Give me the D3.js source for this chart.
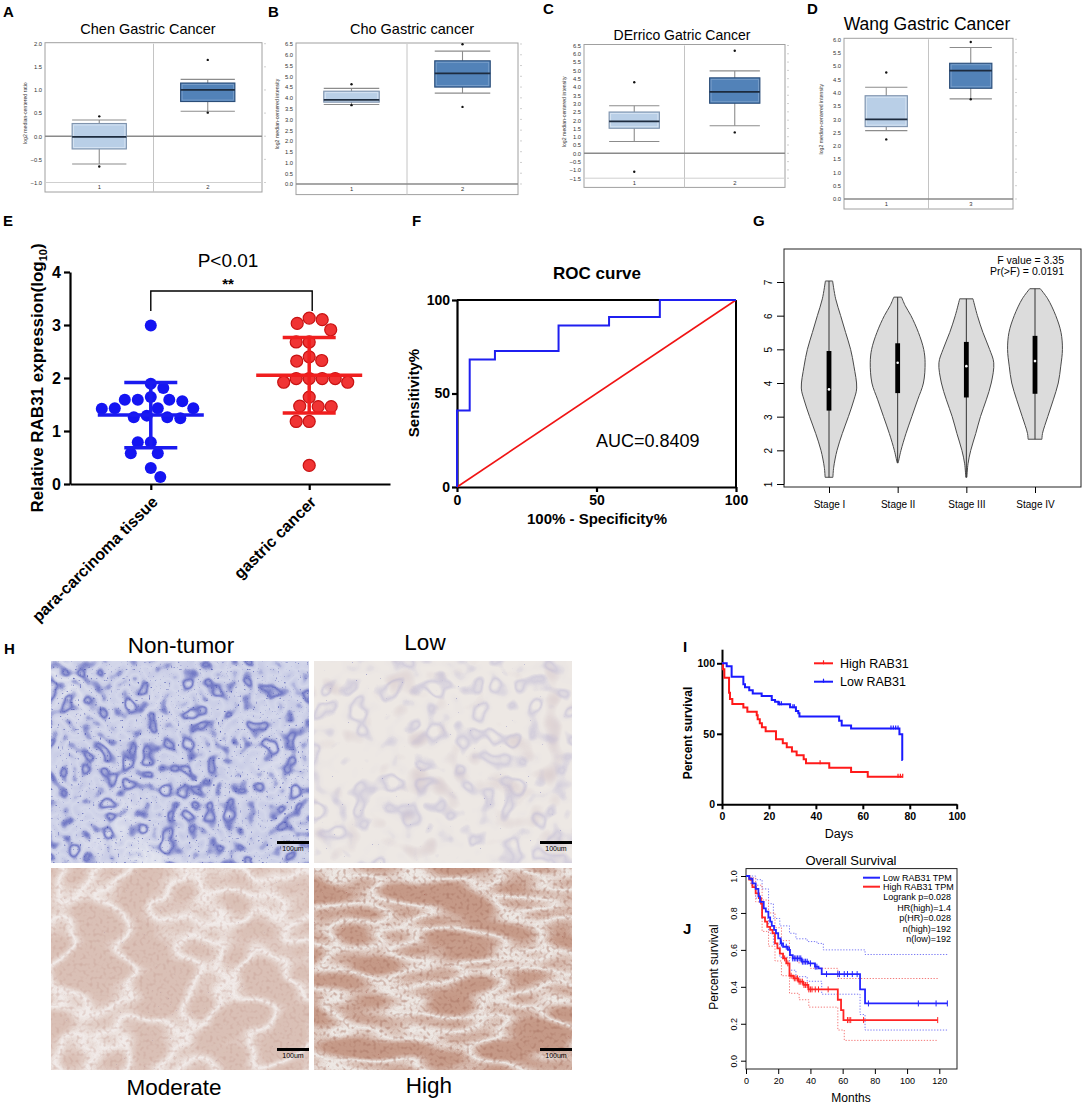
<!DOCTYPE html>
<html>
<head>
<meta charset="utf-8">
<title>RAB31 gastric cancer figure</title>
<script src="https://cdn.jsdelivr.net/npm/d3@7/dist/d3.min.js"></script>
<style>
  body { margin: 0; background: #fff; }
  svg { display: block; }
  text { font-family: "Liberation Sans", Arial, Helvetica, sans-serif; }
</style>
</head>
<body>
<svg id="fig" width="1084" height="1106"></svg>
<script>
// ---------- data: A-D Oncomine boxes [whiskerLow, q1, median, q3, whiskerHigh] ----------
const chenGroups = ['1', '2'];
const chenBoxes = [[-0.6, -0.275, -0.015, 0.275, 0.35], [0.54, 0.75, 1.0, 1.15, 1.23]];
const chenOutliers = [[0.43, -0.655], [1.65, 0.51]];
const chenTicks = [-1.0, -0.5, 0.0, 0.5, 1.0, 1.5, 2.0];

const choGroups = ['1', '2'];
const choBoxes = [[3.69, 3.8, 3.91, 4.31, 4.44], [4.22, 4.5, 5.14, 5.72, 6.17]];
const choOutliers = [[4.63, 3.66], [6.49, 3.58]];
const choTicks = [0, 0.5, 1, 1.5, 2, 2.5, 3, 3.5, 4, 4.5, 5, 5.5, 6, 6.5];

const derricoGroups = ['1', '2'];
const derricoBoxes = [[0.71, 1.51, 1.93, 2.49, 2.87], [1.66, 3.02, 3.71, 4.55, 4.97]];
const derricoOutliers = [[4.28, -1.11], [6.18, 1.26]];
const derricoTicks = [-1.5, -1, -0.5, 0, 0.5, 1, 1.5, 2, 2.5, 3, 3.5, 4, 4.5, 5, 5.5, 6, 6.5];

const wangGroups = ['1', '3'];
const wangBoxes = [[2.57, 2.72, 2.99, 3.88, 4.2], [3.76, 4.16, 4.82, 5.1, 5.69]];
const wangOutliers = [[4.75, 2.24], [5.9, 3.75]];
const wangTicks = [0, 0.5, 1, 1.5, 2, 2.5, 3, 3.5, 4, 4.5, 5, 5.5, 6];

// ---------- data: E scatter ----------
const eGroups = ['para-carcinoma tissue', 'gastric cancer'];
const paraValues = [2.99, 1.89, 1.81, 1.64, 1.59, 1.59, 1.56, 1.59, 1.43, 1.42, 1.43, 1.43,
  1.26, 1.24, 1.26, 1.29, 0.79, 0.79, 0.58, 0.58, 0.30, 0.13];
const cancerValues = [3.13, 3.03, 3.10, 2.91, 2.68, 2.68, 2.40, 2.32, 2.33, 1.99, 1.99, 1.92,
  1.92, 1.99, 1.99, 1.64, 1.47, 1.46, 1.46, 1.18, 1.18, 0.35];
const eTicks = [0, 1, 2, 3, 4];

// ---------- data: F ROC ----------
const rocFpr = [0, 0, 4.55, 4.55, 13.6, 13.6, 36.4, 36.4, 54.5, 54.5, 72.7, 72.7, 100];
const rocTpr = [0, 40.9, 40.9, 68.2, 68.2, 72.7, 72.7, 86.4, 86.4, 90.9, 90.9, 100, 100];
const rocDiag = [0, 100];
const rocTicks = [0, 50, 100];

// ---------- data: G violins [value, relative density] ----------
const stages = ['Stage I', 'Stage II', 'Stage III', 'Stage IV'];
const violinDensity = [
  [[1.2, 0.14], [1.5, 0.17], [2.0, 0.29], [2.5, 0.48], [3.0, 0.70], [3.5, 0.90], [3.85, 1.0], [4.5, 0.90], [5.0, 0.78], [5.5, 0.60], [6.0, 0.42], [6.5, 0.24], [7.03, 0.13]],
  [[1.63, 0.02], [1.75, 0.05], [2.0, 0.12], [2.5, 0.30], [3.0, 0.51], [3.5, 0.72], [4.0, 0.93], [4.6, 0.99], [5.0, 0.94], [5.5, 0.75], [6.0, 0.48], [6.3, 0.27], [6.55, 0.14]],
  [[1.2, 0.02], [1.6, 0.06], [2.0, 0.16], [2.5, 0.34], [3.0, 0.51], [3.5, 0.72], [4.0, 0.90], [4.6, 0.99], [5.0, 0.84], [5.5, 0.60], [6.0, 0.40], [6.5, 0.24]],
  [[2.33, 0.25], [2.5, 0.27], [3.0, 0.46], [3.5, 0.66], [4.0, 0.84], [4.5, 0.93], [5.0, 0.99], [5.5, 0.94], [6.0, 0.75], [6.5, 0.46], [6.8, 0.19]]
];
// [min, q1, median, q3, max]
const violinStats = [[1.2, 3.18, 3.81, 4.95, 7.03], [1.63, 3.7, 4.6, 5.18, 6.55], [1.2, 3.57, 4.5, 5.22, 6.5], [2.33, 3.68, 4.65, 5.4, 6.8]];
const gTicks = [1, 2, 3, 4, 5, 6, 7];

// ---------- data: I Kaplan-Meier (days, percent) ----------
const iHighDays = [0, 0.4, 1, 3, 3.4, 4.4, 9.1, 10.8, 14.8, 15.2, 16.1, 17, 18.6, 23, 25.9, 27.6, 29.8, 31.8, 34.8, 35.8, 45.7, 55, 62.1, 77];
const iHighSurv = [100, 95.7, 89.8, 79.2, 74.7, 71.2, 68.6, 65.7, 63.1, 60.3, 57.4, 54.6, 51.8, 46.1, 43.3, 40.4, 37.4, 34.8, 31.9, 29.1, 26, 22.9, 19.6, 19.6];
const iHighCensor = [41.8, 75, 76, 77];
const iLowDays = [0, 2, 4.1, 9.1, 9.8, 11.6, 13.1, 16.9, 21.2, 22.6, 24, 29, 31.5, 32.5, 33, 49.9, 51, 55, 75.6, 76.8, 77];
const iLowSurv = [100, 97.9, 90.5, 85.1, 83, 80.8, 78.5, 76.8, 74, 72.8, 70.9, 68.8, 66.2, 64.5, 62.2, 59.3, 55.8, 53.7, 49.6, 31.4, 31.4];
const iLowCensor = [24.5, 25.3, 30.2, 30.8, 72, 73, 74, 75];
const iXTicks = [0, 20, 40, 60, 80, 100];
const iYTicks = [0, 50, 100];

// ---------- data: J GEPIA overall survival (months, fraction) ----------
const jLowMonths = [0, 2, 4, 6, 7.7, 8.7, 11, 12.3, 13.9, 15, 16, 17.4, 18.6, 20, 21.5, 23, 26, 27.3, 29, 34.5, 38.7, 42.8, 45, 47, 70.8, 73.9, 125];
const jLowSurv = [1, 0.985, 0.96, 0.93, 0.89, 0.86, 0.825, 0.807, 0.776, 0.753, 0.73, 0.708, 0.69, 0.662, 0.635, 0.617, 0.6, 0.572, 0.554, 0.536, 0.527, 0.509, 0.5, 0.469, 0.386, 0.31, 0.31];
const jLowUpperM = [0, 3, 6, 10, 14, 17, 21, 27, 31, 38, 44, 48, 73.9, 125];
const jLowUpperS = [1, 1, 0.98, 0.93, 0.85, 0.77, 0.73, 0.69, 0.66, 0.645, 0.635, 0.6, 0.575, 0.575];
const jLowLowerM = [0, 3, 6, 10, 14, 17, 21, 27, 31, 38, 47, 70.8, 73.9, 125];
const jLowLowerS = [1, 0.96, 0.88, 0.77, 0.69, 0.63, 0.56, 0.49, 0.455, 0.43, 0.36, 0.25, 0.166, 0.166];
const jLowCensor = [22, 25, 27, 29, 30, 31, 32, 33, 34, 35, 36, 37, 38, 40, 43, 44, 50, 57, 58, 61, 63, 66, 69, 76, 107, 118, 125];

const jHighMonths = [0, 2, 4, 6, 8, 9.3, 10, 11.8, 13.2, 15, 16.5, 18, 19.5, 21, 23, 25, 27, 29.4, 32.5, 35.6, 38.7, 57, 59, 60.5, 119];
const jHighSurv = [1, 0.98, 0.94, 0.906, 0.88, 0.85, 0.776, 0.753, 0.725, 0.708, 0.69, 0.635, 0.608, 0.58, 0.554, 0.527, 0.46, 0.446, 0.428, 0.41, 0.386, 0.33, 0.274, 0.22, 0.22];
const jHighUpperM = [0, 3, 6, 10, 14, 18, 22, 27, 32, 40, 57, 119];
const jHighUpperS = [1, 0.99, 0.95, 0.87, 0.8, 0.72, 0.65, 0.56, 0.53, 0.5, 0.445, 0.445];
const jHighLowerM = [0, 3, 6, 10, 14, 18, 22, 27, 33, 39, 57, 61, 119];
const jHighLowerS = [1, 0.95, 0.86, 0.7, 0.62, 0.54, 0.46, 0.365, 0.33, 0.29, 0.166, 0.11, 0.11];
const jHighCensor = [24, 26, 28, 30, 31, 32, 33, 34, 35, 36, 37, 38, 39, 40, 41, 43, 45, 51, 63, 64, 65, 73, 119];
const jXTicks = [0, 20, 40, 60, 80, 100, 120];
const jYTicks = [0, 0.2, 0.4, 0.6, 0.8, 1.0];
const jStats = ['Logrank p=0.028', 'HR(high)=1.4', 'p(HR)=0.028', 'n(high)=192', 'n(low)=192'];

// ---------- setup ----------
const svg = d3.select('#fig');
svg.append('rect').attr('width', 1084).attr('height', 1106).attr('fill', '#fff');
const defs = svg.append('defs');

function panelLetter(t, x, y) {
  svg.append('text').attr('x', x).attr('y', y).attr('font-size', 15).attr('font-weight', 'bold').text(t);
}

function styleAxis(g, size, weight, width) {
  g.selectAll('text').attr('font-size', size).attr('font-weight', weight || 'normal').attr('fill', '#000');
  g.selectAll('path, line').attr('stroke', '#000').attr('stroke-width', width || 1);
}

// ---------- A-D ----------
function oncominePanel(p) {
  const g = svg.append('g');
  const y = d3.scaleLinear().domain(p.domain).range([p.plotBottom, p.top]);
  const x = d3.scaleBand().domain(p.groups).range([p.left, p.right]);
  const bw = x.bandwidth() * 0.5;

  g.append('rect').attr('x', p.left).attr('y', p.top - 1).attr('width', p.right - p.left)
    .attr('height', p.bottom - p.top + 1).attr('fill', 'none').attr('stroke', '#a0a0a0');
  g.append('line').attr('x1', x(p.groups[1])).attr('x2', x(p.groups[1]))
    .attr('y1', p.top).attr('y2', p.bottom).attr('stroke', '#c4c4c4');
  if (p.domain[0] < 0) {
    g.append('line').attr('x1', p.left).attr('x2', p.right).attr('y1', y(p.domain[0])).attr('y2', y(p.domain[0]))
      .attr('stroke', '#cfcfcf');
  }
  g.append('line').attr('x1', p.left).attr('x2', p.right).attr('y1', y(0)).attr('y2', y(0))
    .attr('stroke', '#8a8a8a').attr('stroke-width', 1.4);

  const ax = g.append('g').attr('transform', `translate(${p.left},0)`)
    .call(d3.axisLeft(y).tickValues(p.ticks).tickSize(0).tickPadding(3).tickFormat(d3.format('.1f')));
  ax.select('.domain').remove();
  ax.selectAll('text').attr('font-size', 5.8).attr('fill', '#333');

  g.selectAll('.rt').data(p.ticks).join('line')
    .attr('x1', p.right + 2).attr('x2', p.right + 4)
    .attr('y1', d => y(d)).attr('y2', d => y(d)).attr('stroke', '#bbb').attr('stroke-width', 0.7);

  g.selectAll('.xl').data(p.groups).join('text')
    .attr('x', d => x(d) + x.bandwidth() / 2).attr('y', (p.plotBottom + p.bottom) / 2 + 2)
    .attr('text-anchor', 'middle').attr('font-size', 5.8).attr('fill', '#333').text(d => d);

  p.groups.forEach((grp, i) => {
    const [lo, q1, med, q3, hi] = p.boxes[i];
    const cx = x(grp) + x.bandwidth() / 2;
    const light = i === 0;
    const wc = '#8c8c8c';
    g.append('line').attr('x1', cx).attr('x2', cx).attr('y1', y(hi)).attr('y2', y(lo)).attr('stroke', wc).attr('stroke-width', 1.1);
    [lo, hi].forEach(v => g.append('line').attr('x1', cx - bw / 2).attr('x2', cx + bw / 2)
      .attr('y1', y(v)).attr('y2', y(v)).attr('stroke', wc).attr('stroke-width', 1.1));
    g.append('rect').attr('x', cx - bw / 2).attr('y', y(q3)).attr('width', bw).attr('height', y(q1) - y(q3))
      .attr('fill', light ? '#b9cfe7' : '#5282b8').attr('stroke', light ? '#7f93ad' : '#2a4d78').attr('stroke-width', 1.1);
    g.append('rect').attr('x', cx - bw / 2 + 1.5).attr('y', y(q3) + 1.5).attr('width', bw - 3).attr('height', Math.max(0, y(q1) - y(q3) - 3))
      .attr('fill', 'none').attr('stroke', light ? '#dbe7f4' : '#7fa3cc').attr('stroke-width', 0.8);
    g.append('line').attr('x1', cx - bw / 2).attr('x2', cx + bw / 2).attr('y1', y(med)).attr('y2', y(med))
      .attr('stroke', '#1d2b3e').attr('stroke-width', 1.7);
    g.selectAll(null).data(p.outliers[i]).join('circle')
      .attr('cx', cx).attr('cy', d => y(d)).attr('r', 1.2).attr('fill', '#111');
  });

  g.append('text').attr('x', p.titleX).attr('y', p.titleY).attr('text-anchor', 'middle')
    .attr('font-size', p.titleSize).text(p.title);
  g.append('text').attr('transform', `translate(${p.ytx},${(p.top + p.plotBottom) / 2}) rotate(-90)`)
    .attr('text-anchor', 'middle').attr('font-size', 5.2).attr('fill', '#333').text(p.ytitle);
}

oncominePanel({ groups: chenGroups, boxes: chenBoxes, outliers: chenOutliers, ticks: chenTicks, domain: [-1, 2],
  left: 45, right: 262, top: 43.7, plotBottom: 182.5, bottom: 192,
  title: 'Chen Gastric Cancer', titleX: 148, titleY: 34, titleSize: 14.5, ytx: 27, ytitle: 'log2 median-centered ratio' });
oncominePanel({ groups: choGroups, boxes: choBoxes, outliers: choOutliers, ticks: choTicks, domain: [0, 6.5],
  left: 296, right: 518, top: 44, plotBottom: 184, bottom: 194.6,
  title: 'Cho Gastric cancer', titleX: 412, titleY: 34, titleSize: 14.5, ytx: 279, ytitle: 'log2 median-centered intensity' });
oncominePanel({ groups: derricoGroups, boxes: derricoBoxes, outliers: derricoOutliers, ticks: derricoTicks, domain: [-1.5, 6.5],
  left: 584, right: 785, top: 45.5, plotBottom: 178.2, bottom: 187.4,
  title: 'DErrico Gatric Cancer', titleX: 682, titleY: 39.5, titleSize: 14, ytx: 566, ytitle: 'log2 median-centered intensity' });
oncominePanel({ groups: wangGroups, boxes: wangBoxes, outliers: wangOutliers, ticks: wangTicks, domain: [0, 6],
  left: 844, right: 1013, top: 39.3, plotBottom: 199, bottom: 209,
  title: 'Wang Gastric Cancer', titleX: 927, titleY: 30, titleSize: 17.5, ytx: 823, ytitle: 'log2 median-centered intensity' });

panelLetter('A', 3, 17);
panelLetter('B', 268, 17);
panelLetter('C', 543, 14);
panelLetter('D', 807, 14);

// ---------- E ----------
const eY = d3.scaleLinear().domain([0, 4]).range([484, 272]);
const eX = d3.scalePoint().domain(eGroups).range([70, 390]).padding(0.51);
const eG = svg.append('g');
eG.append('g').attr('transform', 'translate(70,0)')
  .call(d3.axisLeft(eY).tickValues(eTicks).tickSize(6).tickSizeOuter(0).tickPadding(3).tickFormat(d3.format('d')))
  .call(g => styleAxis(g, 16, 'bold', 2.2));
eG.append('g').attr('transform', 'translate(0,484)')
  .call(d3.axisBottom(eX).tickSize(6).tickSizeOuter(0))
  .call(g => { styleAxis(g, 16, 'bold', 2.2); g.selectAll('text').remove(); });
eG.selectAll('.xlab').data(eGroups).join('text')
  .attr('transform', d => `translate(${eX(d) + 8},${503}) rotate(-45)`)
  .attr('text-anchor', 'end').attr('font-size', 16).attr('font-weight', 'bold').text(d => d);

const eTitle = eG.append('text').attr('transform', 'translate(43,378) rotate(-90)')
  .attr('text-anchor', 'middle').attr('font-size', 17).attr('font-weight', 'bold');
eTitle.append('tspan').text('Relative RAB31 expression(log');
eTitle.append('tspan').attr('font-size', 11).attr('dy', 4).text('10');
eTitle.append('tspan').attr('dy', -4).text(')');

// simple beeswarm: place from the top value down, nearest free offset, alternating sides
function swarm(values, cx, r) {
  const pts = values.map(v => ({ v, y: eY(v), x: cx }));
  const placed = [];
  let balance = 0;
  pts.slice().sort((a, b) => b.v - a.v).forEach(p => {
    for (let dx = 0; dx < 200; dx += 0.5) {
      const opts = dx === 0 ? [0] : (balance > 0 ? [-dx, dx] : [dx, -dx]);
      const ok = opts.find(o => placed.every(q => Math.hypot(q.x - (cx + o), q.y - p.y) >= 2 * r));
      if (ok !== undefined) { p.x = cx + ok; balance += Math.sign(ok); break; }
    }
    placed.push(p);
  });
  return pts;
}

[[paraValues, '#1414f2', null], [cancerValues, '#f03434', '#c81212']].forEach(([vals, col, stroke], i) => {
  const cx = eX(eGroups[i]);
  const pts = swarm(vals, cx, 6.45);
  eG.selectAll(null).data(pts).join('circle')
    .attr('cx', d => d.x).attr('cy', d => d.y).attr('r', 6)
    .attr('fill', col).attr('stroke', stroke || 'none').attr('stroke-width', 1.2);
  const m = d3.mean(vals), sd = d3.deviation(vals);
  const lc = i === 0 ? '#1a1af0' : '#f01e1e';
  eG.append('line').attr('x1', cx - 53).attr('x2', cx + 53).attr('y1', eY(m)).attr('y2', eY(m)).attr('stroke', lc).attr('stroke-width', 3.5);
  eG.append('line').attr('x1', cx).attr('x2', cx).attr('y1', eY(m + sd)).attr('y2', eY(m - sd)).attr('stroke', lc).attr('stroke-width', 3.5);
  [m + sd, m - sd].forEach(v => eG.append('line').attr('x1', cx - 26.5).attr('x2', cx + 26.5)
    .attr('y1', eY(v)).attr('y2', eY(v)).attr('stroke', lc).attr('stroke-width', 3.5));
});

eG.append('path').attr('d', `M${eX(eGroups[0])},311V291H${eX(eGroups[1]) + 3}V311`)
  .attr('fill', 'none').attr('stroke', '#000').attr('stroke-width', 1.4);
eG.append('text').attr('x', 228).attr('y', 267).attr('text-anchor', 'middle').attr('font-size', 19).text('P<0.01');
eG.append('text').attr('x', 228).attr('y', 289).attr('text-anchor', 'middle').attr('font-size', 15).attr('font-weight', 'bold').text('**');
panelLetter('E', 3, 226);

// ---------- F ----------
const fX = d3.scaleLinear().domain([0, 100]).range([457, 736]);
const fY = d3.scaleLinear().domain([0, 100]).range([487, 300]);
const fG = svg.append('g');
fG.append('line').attr('x1', fX(0)).attr('x2', fX(100)).attr('y1', fY(100)).attr('y2', fY(100)).attr('stroke', '#000').attr('stroke-width', 2);
fG.append('line').attr('x1', fX(100)).attr('x2', fX(100)).attr('y1', fY(100)).attr('y2', fY(0)).attr('stroke', '#000').attr('stroke-width', 2);
fG.append('g').attr('transform', `translate(${fX(0)},0)`)
  .call(d3.axisLeft(fY).tickValues(rocTicks).tickSize(5).tickSizeOuter(0).tickPadding(2))
  .call(g => styleAxis(g, 14, 'bold', 2.2));
fG.append('g').attr('transform', `translate(0,${fY(0)})`)
  .call(d3.axisBottom(fX).tickValues(rocTicks).tickSize(5).tickSizeOuter(0).tickPadding(3))
  .call(g => styleAxis(g, 14, 'bold', 2.2));
fG.append('path').datum(rocDiag)
  .attr('d', d3.line().x(d => fX(d)).y(d => fY(d)))
  .attr('fill', 'none').attr('stroke', '#f01414').attr('stroke-width', 1.6);
fG.append('path').datum(d3.zip(rocFpr, rocTpr))
  .attr('d', d3.line().x(d => fX(d[0])).y(d => fY(d[1])))
  .attr('fill', 'none').attr('stroke', '#1f1ff0').attr('stroke-width', 2);
fG.append('text').attr('x', 597).attr('y', 279).attr('text-anchor', 'middle').attr('font-size', 17).attr('font-weight', 'bold').text('ROC curve');
fG.append('text').attr('x', 596).attr('y', 447).attr('font-size', 18).text('AUC=0.8409');
fG.append('text').attr('transform', 'translate(419,393) rotate(-90)').attr('text-anchor', 'middle')
  .attr('font-size', 15).attr('font-weight', 'bold').text('Sensitivity%');
fG.append('text').attr('x', 597).attr('y', 524).attr('text-anchor', 'middle')
  .attr('font-size', 15).attr('font-weight', 'bold').text('100% - Specificity%');
panelLetter('F', 412, 226);

// ---------- G ----------
const gX = d3.scalePoint().domain(stages).range([829, 1035]);
const gY = d3.scaleLinear().domain([1, 7]).range([484, 282]);
const gW = d3.scaleLinear().domain([0, 1]).range([0, 27.7]);
const gG = svg.append('g');
gG.append('rect').attr('x', 784).attr('y', 249).attr('width', 297).attr('height', 238)
  .attr('fill', 'none').attr('stroke', '#222').attr('stroke-width', 1);
stages.forEach((s, i) => {
  const cx = gX(s);
  const area = d3.area().curve(d3.curveCatmullRom)
    .y(d => gY(d[0])).x0(d => cx - gW(d[1])).x1(d => cx + gW(d[1]));
  gG.append('path').datum(violinDensity[i]).attr('d', area)
    .attr('fill', '#dcdcdc').attr('stroke', '#4a4a4a').attr('stroke-width', 1);
  const [mn, q1, med, q3, mx] = violinStats[i];
  gG.append('line').attr('x1', cx).attr('x2', cx).attr('y1', gY(mx)).attr('y2', gY(mn)).attr('stroke', '#333').attr('stroke-width', 1);
  gG.append('rect').attr('x', cx - 2.4).attr('y', gY(q3)).attr('width', 4.8).attr('height', gY(q1) - gY(q3)).attr('fill', '#000');
  gG.append('circle').attr('cx', cx).attr('cy', gY(med)).attr('r', 1.3).attr('fill', '#fff');
});
gG.append('g').attr('transform', 'translate(784,0)')
  .call(d3.axisLeft(gY).tickValues(gTicks).tickSize(7).tickSizeOuter(0).tickPadding(4).tickFormat(d3.format('d')))
  .call(g => {
    styleAxis(g, 10, 'normal', 1);
    g.select('.domain').attr('stroke', '#555');
    g.selectAll('text').attr('transform', 'rotate(-90)').attr('text-anchor', 'middle').attr('x', 0)
      .attr('y', -12).attr('dy', '0');
  });
gG.append('g').attr('transform', 'translate(0,487)')
  .call(d3.axisBottom(gX).tickSize(6).tickSizeOuter(0).tickPadding(8))
  .call(g => { styleAxis(g, 10, 'normal', 1); g.select('.domain').remove(); });
gG.append('text').attr('x', 1064).attr('y', 264).attr('text-anchor', 'end').attr('font-size', 10.5).text('F value = 3.35');
gG.append('text').attr('x', 1064).attr('y', 275).attr('text-anchor', 'end').attr('font-size', 10.5).text('Pr(>F) = 0.0191');
panelLetter('G', 753, 226);

// ---------- H (IHC photographs, drawn as stylised textures) ----------
function addTexture(id, o) {
  const f = defs.append('filter').attr('id', id).attr('filterUnits', 'objectBoundingBox')
    .attr('x', 0).attr('y', 0).attr('width', 1).attr('height', 1).attr('color-interpolation-filters', 'sRGB');
  f.append('feTurbulence').attr('type', o.type || 'fractalNoise').attr('baseFrequency', o.freq)
    .attr('numOctaves', o.oct || 2).attr('seed', o.seed);
  const c = d3.rgb(o.color);
  f.append('feColorMatrix').attr('type', 'matrix')
    .attr('values', `0 0 0 0 ${c.r / 255} 0 0 0 0 ${c.g / 255} 0 0 0 0 ${c.b / 255} 1 0 0 0 0`);
  f.append('feComponentTransfer').append('feFuncA').attr('type', 'table').attr('tableValues', o.table);
}
const slides = [
  { x: 51, y: 661, base: '#d4d7ea', label: 'Non-tumor', lx: 181, ly: 653, layers: [
    { freq: '0.011', seed: 2, color: '#e4e6ef', table: '0 0 0 0 0 0 0.3 0.95 0.95 0.95' },
    { freq: '0.05', oct: 2, seed: 7, color: '#4f58b8', table: '0 0 0.05 0.75 0.1 0 0.1 0.75 0.05 0 0' },
    { freq: '0.45', oct: 1, seed: 4, color: '#3a44a8', table: '0 0 0 0 0 0 0 0.6 1 1' }] },
  { x: 314, y: 661, base: '#ede8e4', label: 'Low', lx: 425, ly: 650, layers: [
    { freq: '0.03', seed: 11, color: '#d2c2c6', table: '0.8 0.7 0.4 0 0 0 0.4 0.7 0.8' },
    { freq: '0.04', seed: 5, color: '#b5b0d2', table: '0 0 0 0.45 0.05 0 0 0.45 0 0 0' },
    { freq: '0.5', oct: 1, seed: 9, color: '#4548a6', table: '0 0 0 0 0 0 0 0 0.6 1' }] },
  { x: 51, y: 868, base: '#f1ecea', label: 'Moderate', lx: 174, ly: 1095, layers: [
    { freq: '0.016 0.024', seed: 4, color: '#d8bcb1', table: '0.92 0.92 0.92 0.92 0.92 0.92 0.9 0.6 0 0.6 0.9 0.92 0.92 0.92 0.92 0.92 0.92' },
    { freq: '0.3', oct: 1, seed: 12, color: '#c39a8f', table: '0 0 0 0 0.25 0.45 0.5' },
    { freq: '0.5', oct: 1, seed: 3, color: '#7a5a86', table: '0 0 0 0 0 0 0 0 0.3 0.8' }] },
  { x: 314, y: 868, base: '#eee9e6', label: 'High', lx: 429, ly: 1093, layers: [
    { freq: '0.012 0.032', seed: 21, color: '#c39582', table: '0.95 0.95 0.95 0.95 0.95 0.95 0.9 0.55 0 0.55 0.9 0.95 0.95 0.95 0.95 0.95 0.95' },
    { freq: '0.3', oct: 1, seed: 15, color: '#a26b5a', table: '0 0 0 0 0.3 0.55 0.6' },
    { freq: '0.5', oct: 1, seed: 8, color: '#8c2626', table: '0 0 0 0 0 0 0 0 0.4 1' }] }
];
const sw = 258, sh = 202;
slides.forEach((s, i) => {
  const g = svg.append('g');
  g.append('rect').attr('x', s.x).attr('y', s.y).attr('width', sw).attr('height', sh).attr('fill', s.base);
  s.layers.forEach((l, j) => {
    const id = `tex${i}_${j}`;
    addTexture(id, l);
    g.append('rect').attr('x', s.x).attr('y', s.y).attr('width', sw).attr('height', sh).attr('filter', `url(#${id})`);
  });
  const bx = s.x + sw - 32, by = s.y + sh - 22;
  g.append('rect').attr('x', bx).attr('y', by).attr('width', 32).attr('height', 3).attr('fill', '#000');
  g.append('text').attr('x', bx + 16).attr('y', by + 10).attr('text-anchor', 'middle').attr('font-size', 7).text('100um');
  svg.append('text').attr('x', s.lx).attr('y', s.ly).attr('text-anchor', 'middle').attr('font-size', 22.5).text(s.label);
});
panelLetter('H', 4, 654);

// ---------- I ----------
const iX = d3.scaleLinear().domain([0, 100]).range([722, 956.7]);
const iY = d3.scaleLinear().domain([0, 110]).range([804.3, 649.2]);
const iG = svg.append('g');
iG.append('g').attr('transform', 'translate(722,0)')
  .call(d3.axisLeft(iY).tickValues(iYTicks).tickSize(5).tickSizeOuter(0).tickPadding(2))
  .call(g => styleAxis(g, 10.5, 'bold', 2));
iG.append('g').attr('transform', 'translate(0,804.3)')
  .call(d3.axisBottom(iX).tickValues(iXTicks).tickSize(5).tickSizeOuter(0).tickPadding(3))
  .call(g => styleAxis(g, 10.5, 'bold', 2));
const stepLine = (sx, sy) => d3.line().curve(d3.curveStepAfter).x(d => sx(d[0])).y(d => sy(d[1]));
function stepAt(times, surv, t) { return surv[Math.max(0, d3.bisectRight(times, t) - 1)]; }
[[iHighDays, iHighSurv, iHighCensor, '#ff1a1a'], [iLowDays, iLowSurv, iLowCensor, '#1a1aff']].forEach(([t, s, c, col]) => {
  iG.append('path').datum(d3.zip(t, s)).attr('d', stepLine(iX, iY))
    .attr('fill', 'none').attr('stroke', col).attr('stroke-width', 2);
  iG.selectAll(null).data(c).join('line')
    .attr('x1', d => iX(d)).attr('x2', d => iX(d))
    .attr('y1', d => iY(stepAt(t, s, d)) - 3).attr('y2', d => iY(stepAt(t, s, d)) + 1)
    .attr('stroke', col).attr('stroke-width', 1.2);
});
[['High RAB31', '#ff1a1a', 663.3], ['Low RAB31', '#1a1aff', 681.7]].forEach(([lab, col, ly]) => {
  iG.append('line').attr('x1', 814).attr('x2', 833).attr('y1', ly).attr('y2', ly).attr('stroke', col).attr('stroke-width', 2);
  iG.append('line').attr('x1', 823.5).attr('x2', 823.5).attr('y1', ly - 3).attr('y2', ly + 1).attr('stroke', col).attr('stroke-width', 1.2);
  iG.append('text').attr('x', 840).attr('y', ly + 4.5).attr('font-size', 12.5).text(lab);
});
iG.append('text').attr('x', 839).attr('y', 838).attr('text-anchor', 'middle').attr('font-size', 12.5).text('Days');
iG.append('text').attr('transform', 'translate(692,733) rotate(-90)').attr('text-anchor', 'middle')
  .attr('font-size', 12).attr('font-weight', 'bold').text('Percent survival');
panelLetter('I', 683, 652);

// ---------- J ----------
const jX = d3.scaleLinear().domain([0, 120]).range([746, 939.3]);
const jY = d3.scaleLinear().domain([0, 1]).range([1060.7, 876]);
const jG = svg.append('g');
jG.append('rect').attr('x', 746).attr('y', 868.6).attr('width', 211).attr('height', 200.4)
  .attr('fill', 'none').attr('stroke', '#222').attr('stroke-width', 1);
jG.append('g').attr('transform', 'translate(746,0)')
  .call(d3.axisLeft(jY).tickValues(jYTicks).tickSize(5).tickSizeOuter(0).tickFormat(d3.format('.1f')))
  .call(g => {
    styleAxis(g, 9, 'normal', 1);
    g.select('.domain').remove();
    g.selectAll('text').attr('transform', 'rotate(-90)').attr('text-anchor', 'middle').attr('x', 0).attr('y', -9).attr('dy', '0');
  });
jG.append('g').attr('transform', 'translate(0,1069)')
  .call(d3.axisBottom(jX).tickValues(jXTicks).tickSize(5).tickSizeOuter(0).tickPadding(4))
  .call(g => { styleAxis(g, 9, 'normal', 1); g.select('.domain').remove(); });

const ciLines = [
  [jLowUpperM, jLowUpperS, '#7a7af5'], [jLowLowerM, jLowLowerS, '#7a7af5'],
  [jHighUpperM, jHighUpperS, '#f47a7a'], [jHighLowerM, jHighLowerS, '#f47a7a']
];
ciLines.forEach(([t, s, col]) => {
  jG.append('path').datum(d3.zip(t, s)).attr('d', stepLine(jX, jY))
    .attr('fill', 'none').attr('stroke', col).attr('stroke-width', 1).attr('stroke-dasharray', '1.3,1.6');
});
[[jHighMonths, jHighSurv, jHighCensor, '#ff2424'], [jLowMonths, jLowSurv, jLowCensor, '#2424ff']].forEach(([t, s, c, col]) => {
  jG.append('path').datum(d3.zip(t, s)).attr('d', stepLine(jX, jY))
    .attr('fill', 'none').attr('stroke', col).attr('stroke-width', 1.8);
  jG.selectAll(null).data(c).join('line')
    .attr('x1', d => jX(d)).attr('x2', d => jX(d))
    .attr('y1', d => jY(stepAt(t, s, d)) - 3).attr('y2', d => jY(stepAt(t, s, d)) + 3)
    .attr('stroke', col).attr('stroke-width', 1);
});
[['Low RAB31 TPM', '#2424ff', 877.7], ['High RAB31 TPM', '#ff2424', 886.7]].forEach(([lab, col, ly]) => {
  jG.append('line').attr('x1', 863).attr('x2', 880).attr('y1', ly).attr('y2', ly).attr('stroke', col).attr('stroke-width', 2);
  jG.append('text').attr('x', 883).attr('y', ly + 3.2).attr('font-size', 9).text(lab);
});
jG.selectAll('.stat').data(jStats).join('text')
  .attr('x', 951).attr('y', (d, i) => 900 + i * 10.5).attr('text-anchor', 'end').attr('font-size', 9).text(d => d);
jG.append('text').attr('x', 851).attr('y', 865).attr('text-anchor', 'middle').attr('font-size', 13).text('Overall Survival');
jG.append('text').attr('x', 851).attr('y', 1102).attr('text-anchor', 'middle').attr('font-size', 12).text('Months');
jG.append('text').attr('transform', 'translate(718,967) rotate(-90)').attr('text-anchor', 'middle')
  .attr('font-size', 12).text('Percent survival');
panelLetter('J', 683, 934);
</script>
</body>
</html>
